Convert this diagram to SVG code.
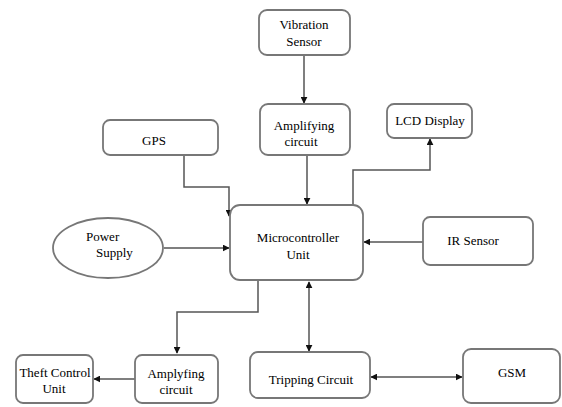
<svg xmlns="http://www.w3.org/2000/svg" width="562" height="407" viewBox="0 0 562 407">
<style>
.box{fill:#fff;stroke:#777;stroke-width:1.8}
text{font-family:'Liberation Serif','Times New Roman','DejaVu Serif',serif;font-size:13px;fill:#000}
.t{text-anchor:middle}
.c{fill:none;stroke:#555;stroke-width:1.5}
</style>
<defs>
<marker id="ah" viewBox="0 0 10 10" refX="9" refY="5" markerWidth="7" markerHeight="7" markerUnits="userSpaceOnUse" orient="auto-start-reverse">
<path d="M0,0 L10,5 L0,10 z" fill="#111"/>
</marker>
</defs>
<rect width="562" height="407" fill="#fff"/>
<g id="connectors">
<path class="c" d="M304,55 V103" marker-end="url(#ah)"/>
<path class="c" d="M307,155 V204" marker-end="url(#ah)"/>
<path class="c" d="M184,155 V187 H229 V216" marker-end="url(#ah)"/>
<path class="c" d="M164,248 H229" marker-end="url(#ah)"/>
<path class="c" d="M423,242 H364" marker-end="url(#ah)"/>
<path class="c" d="M353,205 V170 H430 V139" marker-end="url(#ah)"/>
<path class="c" d="M258,281 V312 H177 V353" marker-end="url(#ah)"/>
<path class="c" d="M135,379 H94" marker-end="url(#ah)"/>
<path class="c" d="M309,282 V351" marker-start="url(#ah)" marker-end="url(#ah)"/>
<path class="c" d="M371,377 H462" marker-start="url(#ah)" marker-end="url(#ah)"/>
</g>
<g id="vibration">
<rect class="box" x="259" y="10" width="91" height="45" rx="8"/>
<text class="t" x="304" y="29">Vibration</text>
<text class="t" x="304" y="46">Sensor</text>
</g>
<g id="amp-top">
<rect class="box" x="260" y="104" width="90" height="51" rx="8"/>
<text class="t" x="304" y="130">Amplifying</text>
<text class="t" x="301" y="146">circuit</text>
</g>
<g id="lcd">
<rect class="box" x="387" y="104" width="85" height="34" rx="7"/>
<text class="t" x="430" y="125">LCD Display</text>
</g>
<g id="gps">
<rect class="box" x="103" y="120" width="115" height="35" rx="7"/>
<text class="t" x="154" y="145">GPS</text>
</g>
<g id="power">
<ellipse class="box" cx="108" cy="248" rx="55" ry="30"/>
<text x="86" y="241">Power</text>
<text x="96" y="257">Supply</text>
</g>
<g id="mcu">
<rect class="box" x="230" y="205" width="133" height="75" rx="10"/>
<text class="t" x="298" y="242">Microcontroller</text>
<text class="t" x="298" y="259">Unit</text>
</g>
<g id="ir">
<rect class="box" x="423" y="217" width="110" height="48" rx="7"/>
<text class="t" x="473" y="245">IR Sensor</text>
</g>
<g id="theft">
<rect class="box" x="16" y="355" width="77" height="48" rx="7"/>
<text class="t" x="55" y="377">Theft Control</text>
<text class="t" x="54" y="393">Unit</text>
</g>
<g id="amp-bottom">
<rect class="box" x="135" y="355" width="83" height="48" rx="7"/>
<text class="t" x="176" y="378">Amplyfing</text>
<text class="t" x="176" y="394">circuit</text>
</g>
<g id="tripping">
<rect class="box" x="250" y="352" width="120" height="46" rx="8"/>
<text class="t" x="311" y="384">Tripping Circuit</text>
</g>
<g id="gsm">
<rect class="box" x="463" y="349" width="97" height="54" rx="8"/>
<text class="t" x="512" y="377">GSM</text>
</g>
</svg>
